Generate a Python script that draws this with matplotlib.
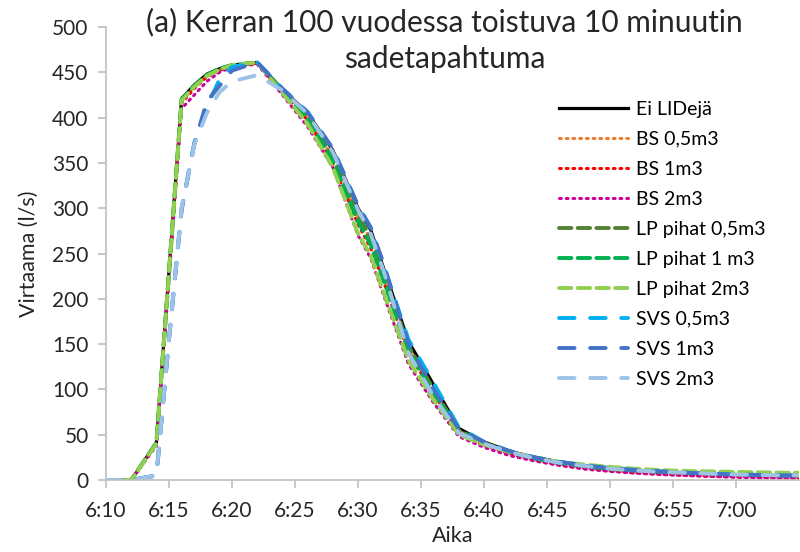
import matplotlib.pyplot as plt

plt.rcParams['font.family'] = ['Lato', 'DejaVu Sans']

# time as minutes after 6:10
minutes = [0, 2, 4, 5, 6, 7, 8, 9, 10, 12, 14, 16, 18, 20, 21, 22, 24, 26, 28,
           30, 32, 34, 36, 38, 40, 42, 44, 46, 48, 50, 52, 54, 55]
tick_labels = ['6:10', '6:15', '6:20', '6:25', '6:30', '6:35', '6:40',
               '6:45', '6:50', '6:55', '7:00']

ei_lid = [0, 0, 41, 231, 421, 436, 448, 454, 458, 461, 431, 405, 364, 300, 276, 235, 153, 105, 57,
          42, 32, 25, 20, 16, 13, 11, 9, 8, 7, 6, 5, 4.5, 4]
bs_05 = [0, 0, 40, 228, 418, 434, 446, 453, 457, 460, 429, 400, 356, 290, 265, 228, 145, 98, 54,
         40, 30, 23, 18, 14, 11, 9, 7.5, 6, 5, 4, 3.5, 3, 2.5]
bs_1 = [0, 0, 40, 226, 416, 432, 445, 452, 457, 460, 428, 397, 350, 282, 256, 220, 140, 95, 52,
        38, 29, 22, 17, 13, 10, 8, 6.5, 5, 4, 3.5, 3, 2.5, 2]
bs_2 = [0, 0, 38, 220, 410, 425, 440, 450, 456, 459, 425, 390, 345, 270, 245, 205, 128, 85, 48,
        36, 27, 21, 16, 12, 9.5, 7.5, 6, 5, 4, 3, 2.5, 2, 2]
lp_05 = [0, 0, 41, 230, 420, 435, 447, 454, 458, 461, 430, 402, 358, 292, 268, 230, 148, 100, 55,
         41, 31, 24, 19, 15, 12, 10.5, 9, 8, 7, 6.5, 6, 5.5, 5]
lp_1 = [0, 0, 41, 230, 420, 435, 447, 454, 458, 461, 429, 398, 352, 285, 260, 222, 142, 96, 53,
        40, 31, 24, 19, 15.5, 13, 11, 9.5, 8.5, 7.5, 7, 6.5, 6, 6]
lp_2 = [0, 0, 40, 229, 419, 434, 446, 453, 458, 461, 427, 393, 345, 272, 248, 208, 132, 88, 50,
        39, 31, 25, 20, 17, 14.5, 12.5, 11, 10, 9.5, 9, 8.5, 8, 8]
svs_05 = [0, 0, 5, 156, 300, 372, 412, 442, 456, 461, 432, 406, 365, 302, 278, 238, 155, 107, 58,
          42, 32, 25, 20, 16, 13, 11, 9.5, 8, 7, 6, 5.5, 5, 5]
svs_1 = [0, 0, 5, 155, 298, 370, 418, 435, 452, 461, 432, 406, 366, 303, 279, 240, 150, 100, 56,
         42, 32, 25, 20, 16, 13, 11, 9.5, 8, 7, 6, 5.5, 5, 5]
svs_2 = [0, 0, 5, 156, 300, 370, 405, 428, 440, 447, 430, 404, 362, 298, 272, 232, 140, 92, 52,
         40, 31, 24, 19, 15.5, 12.5, 10.5, 9, 8, 7, 6, 5.5, 5, 5]

dot = (0, (0.6, 1.6))
lp_dash = (0, (3.2, 1.6))
svs_dash = (0, (4.0, 4.0))

series = [
    ('Ei LIDejä', ei_lid, '#000000', '-', 2.3, 'butt'),
    ('BS 0,5m3', bs_05, '#ED7D31', dot, 2.2, 'round'),
    ('BS 1m3', bs_1, '#FF0000', dot, 2.2, 'round'),
    ('BS 2m3', bs_2, '#CC0099', dot, 2.2, 'round'),
    ('LP pihat 0,5m3', lp_05, '#548235', lp_dash, 2.8, 'round'),
    ('LP pihat 1 m3', lp_1, '#00B050', lp_dash, 2.8, 'round'),
    ('LP pihat 2m3', lp_2, '#92D050', lp_dash, 2.8, 'round'),
    ('SVS 0,5m3', svs_05, '#00B0F0', svs_dash, 2.8, 'round'),
    ('SVS 1m3', svs_1, '#4472C4', svs_dash, 2.8, 'round'),
    ('SVS 2m3', svs_2, '#9DC3E6', svs_dash, 2.8, 'round'),
]

fig = plt.figure(figsize=(8, 5.52), dpi=100)
ax = fig.add_axes([0.1325, 0.1304, 0.8665, 0.8206])

for name, vals, color, ls, lw, cap in series:
    ax.plot(minutes, vals, color=color, linestyle=ls, linewidth=lw,
            dash_capstyle=cap, solid_joinstyle='miter', label=name)

ax.set_xlim(0, 55)
ax.set_ylim(0, 500)
ax.set_xticks(range(0, 55, 5))
ax.set_xticklabels(tick_labels)
ax.set_yticks(range(0, 501, 50))
ax.tick_params(labelsize=15, colors='#BFBFBF', labelcolor='#262626', length=5.5, width=1.2, pad=7)
ax.tick_params(axis='x', pad=9.5)
for side in ['top', 'right']:
    ax.spines[side].set_visible(False)
for side in ['left', 'bottom']:
    ax.spines[side].set_color('#BFBFBF')
    ax.spines[side].set_linewidth(1.2)

ax.set_xlabel('Aika', fontsize=15.5, color='#262626', labelpad=4)
ax.set_ylabel('Virtaama (l/s)', fontsize=15.5, color='#262626', labelpad=10)

fig.text(0.556, 0.927, '(a) Kerran 100 vuodessa toistuva 10 minuutin\nsadetapahtuma',
         ha='center', va='center', fontsize=21.5, color='#262626', linespacing=1.4)

ax.legend(loc='upper left', bbox_to_anchor=(0.689, 0.832), bbox_transform=fig.transFigure,
          frameon=False, fontsize=14, handlelength=3.55, handletextpad=0.4,
          labelspacing=0.67, borderaxespad=0)

fig.savefig('out.png', dpi=100)
